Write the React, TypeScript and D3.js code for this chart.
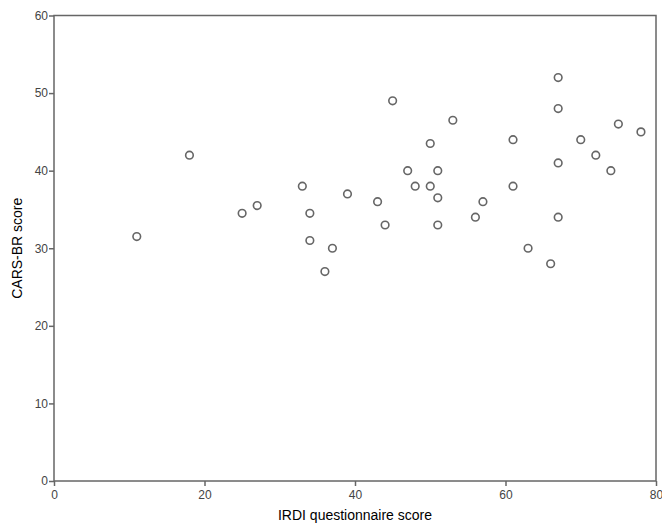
import React, { useEffect, useRef } from 'react';
import { select, scaleLinear, axisBottom, axisLeft } from 'd3';

const irdi = [11, 18, 25, 27, 33, 34, 34, 36, 37, 39, 43, 44, 45, 47, 48, 50, 50, 51, 51, 51, 53, 56, 57, 61, 61, 63, 66, 67, 67, 67, 67, 70, 72, 74, 75, 78];
const cars = [31.5, 42, 34.5, 35.5, 38, 34.5, 31, 27, 30, 37, 36, 33, 49, 40, 38, 43.5, 38, 40, 36.5, 33, 46.5, 34, 36, 44, 38, 30, 28, 52, 48, 41, 34, 44, 42, 40, 46, 45];
const xTicks = [0, 20, 40, 60, 80];
const yTicks = [0, 10, 20, 30, 40, 50, 60];

const W = 662;
const H = 523;
const margin = { left: 54, right: 6, top: 15.5, bottom: 42 };

export default function App() {
  const svgRef = useRef(null);

  useEffect(() => {
    const svg = select(svgRef.current);
    svg.selectAll('*').remove();
    const x = scaleLinear().domain([0, 80]).range([margin.left, W - margin.right]);
    const y = scaleLinear().domain([0, 60]).range([H - margin.bottom, margin.top]);
    const axisColor = '#666';

    // frame
    svg
      .append('rect')
      .attr('x', x(0))
      .attr('y', y(60))
      .attr('width', x(80) - x(0))
      .attr('height', y(0) - y(60))
      .attr('fill', 'none')
      .attr('stroke', axisColor)
      .attr('stroke-width', 1.5);

    svg
      .append('g')
      .attr('transform', `translate(0, ${y(0)})`)
      .call(axisBottom(x).tickValues(xTicks).tickSize(5).tickSizeOuter(0))
      .call((g) => g.select('.domain').remove())
      .call((g) => g.selectAll('line').attr('stroke', axisColor).attr('stroke-width', 1.5))
      .call((g) =>
        g
          .selectAll('text')
          .attr('fill', '#444')
          .attr('dy', '0.85em')
          .style('font-family', 'Liberation Sans, Arial, sans-serif')
          .style('font-size', '12px')
      );

    svg
      .append('g')
      .attr('transform', `translate(${x(0)}, 0)`)
      .call(axisLeft(y).tickValues(yTicks).tickSize(5).tickSizeOuter(0))
      .call((g) => g.select('.domain').remove())
      .call((g) => g.selectAll('line').attr('stroke', axisColor).attr('stroke-width', 1.5))
      .call((g) =>
        g
          .selectAll('text')
          .attr('fill', '#444')
          .attr('x', -6)
          .style('font-family', 'Liberation Sans, Arial, sans-serif')
          .style('font-size', '12px')
      );

    svg
      .selectAll('circle.pt')
      .data(irdi.map((v, i) => [v, cars[i]]))
      .join('circle')
      .attr('class', 'pt')
      .attr('cx', (d) => x(d[0]))
      .attr('cy', (d) => y(d[1]))
      .attr('r', 3.8)
      .attr('fill', 'none')
      .attr('stroke', '#666')
      .attr('stroke-width', 1.6);

    svg
      .append('text')
      .attr('x', (x(0) + x(80)) / 2)
      .attr('y', 520)
      .attr('text-anchor', 'middle')
      .style('font-family', 'Liberation Sans, Arial, sans-serif')
      .style('font-size', '14px')
      .text('IRDI questionnaire score');

    svg
      .append('text')
      .attr('transform', `translate(22, ${(y(0) + y(60)) / 2}) rotate(-90)`)
      .attr('text-anchor', 'middle')
      .style('font-family', 'Liberation Sans, Arial, sans-serif')
      .style('font-size', '14px')
      .text('CARS-BR score');
  }, []);

  return (
    <svg
      ref={svgRef}
      width={W}
      height={H}
      style={{ position: 'absolute', left: 0, top: 0, background: '#fff' }}
    />
  );
}
